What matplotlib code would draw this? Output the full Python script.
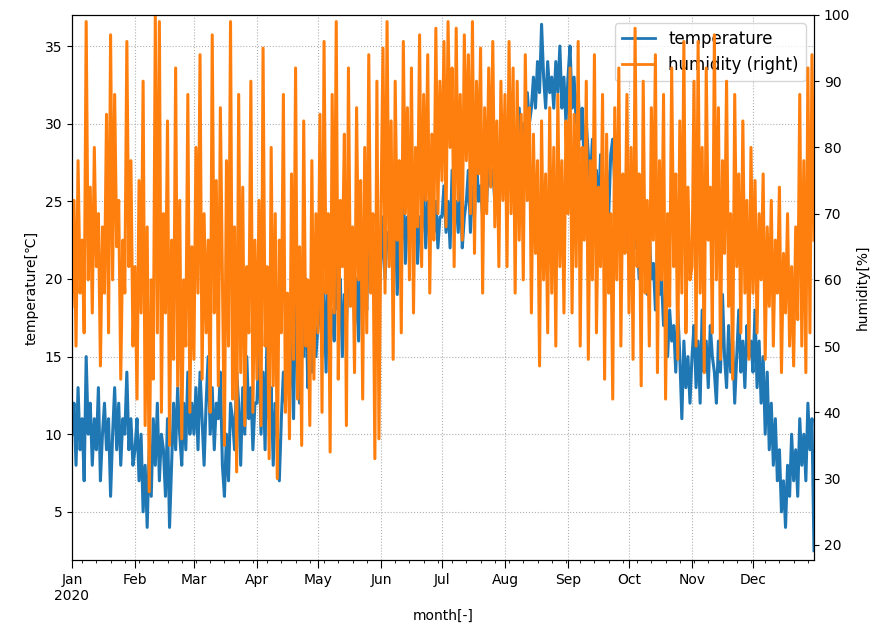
import numpy as np
import pandas as pd
import matplotlib
matplotlib.use("Agg")
import matplotlib.pyplot as plt
import matplotlib.dates as mdates

# daily values (2020, 366 days)
temperature = [
    # Jan
    10, 12, 8, 13, 9, 11, 7, 15, 10, 12, 8, 11, 9, 13, 7, 10, 12, 9, 11, 6,
    10, 13, 9, 12, 8, 11, 10, 14, 9, 11, 8,
    # Feb
    9, 11, 7, 10, 5, 8, 4, 9, 6, 11, 8, 12, 7, 10, 9, 6, 11, 4, 8, 12,
    9, 13, 10, 8, 12, 9, 14, 10, 12,
    # Mar
    10, 13, 9, 14, 11, 8, 12, 15, 10, 13, 9, 12, 11, 14, 8, 6, 10, 7, 12, 11,
    9, 14, 12, 8, 13, 10, 15, 11, 13, 9, 12,
    # Apr
    12, 16, 10, 14, 9, 17, 11, 13, 8, 12, 10, 7, 11, 14, 12, 18, 13, 16, 11, 19,
    14, 12, 17, 15, 20, 13, 16, 14, 18, 15,
    # May
    17, 20, 15, 19, 14, 21, 17, 18, 16, 22, 18, 20, 15, 19, 17, 21, 19, 23, 17, 20,
    16, 22, 19, 21, 18, 24, 20, 22, 18, 21, 19,
    # Jun
    21, 24, 20, 23, 22, 25, 21, 24, 19, 23, 22, 26, 21, 24, 23, 25, 22, 27, 21, 24,
    23, 26, 22, 25, 24, 27, 23, 25, 22, 24,
    # Jul
    24, 26, 23, 25, 22, 27, 24, 25, 23, 26, 22, 24, 25, 27, 23, 26, 24, 28, 25, 26,
    24, 27, 25, 28, 26, 27, 25, 28, 26, 29, 27,
    # Aug
    27, 29, 26, 30, 28, 27, 29, 31, 28, 30, 29, 32, 30, 31, 33, 31, 34, 32, 36.4, 33,
    31, 34, 32, 33, 31, 34, 32, 35, 31, 33, 30,
    # Sep
    33, 35, 31, 33, 30, 32, 29, 31, 27, 30, 28, 26, 29, 25, 27, 24, 28, 26, 25, 27,
    24, 28, 29, 26, 27, 24, 25, 23, 26, 22,
    # Oct
    24, 21, 25, 22, 23, 20, 24, 21, 22, 19, 23, 20, 21, 18, 22, 19, 20, 17, 19, 15,
    18, 16, 17, 14, 18, 15, 11, 16, 13, 15, 12,
    # Nov
    15, 17, 13, 16, 12, 18, 14, 16, 13, 17, 15, 14, 12, 16, 14, 19, 15, 13, 17, 14,
    16, 12, 15, 18, 14, 16, 13, 17, 15, 16,
    # Dec
    14, 18, 13, 16, 12, 15, 10, 14, 9, 12, 8, 11, 7, 9, 5, 7, 4, 8, 6, 10,
    7, 9, 6, 11, 8, 10, 7, 12, 9, 11, 2.5,
]

humidity = [
    # Jan
    56, 72, 50, 78, 58, 66, 52, 99, 60, 74, 55, 80, 62, 70, 47, 68, 58, 85, 52, 97,
    60, 88, 65, 72, 45, 66, 58, 96, 62, 78, 50,
    # Feb
    62, 42, 75, 55, 90, 38, 68, 28, 60, 45, 100, 52, 99, 40, 70, 55, 84, 35, 66, 48,
    92, 44, 72, 36, 60, 50, 88, 40, 65,
    # Mar
    48, 80, 58, 94, 45, 70, 52, 66, 40, 97, 55, 75, 44, 86, 60, 35, 78, 50, 99, 42,
    68, 31, 88, 46, 74, 38, 62, 52, 90, 40, 66,
    # Apr
    45, 72, 38, 95, 50, 62, 33, 80, 44, 70, 30, 66, 52, 88, 40, 58, 36, 76, 48, 92,
    42, 65, 35, 84, 50, 60, 38, 78, 45, 70,
    # May
    52, 85, 40, 96, 58, 70, 34, 88, 55, 99, 45, 72, 62, 82, 38, 92, 56, 68, 46, 86,
    60, 75, 42, 80, 52, 94, 58, 70, 33, 90, 36,
    # Jun
    70, 95, 58, 99, 62, 84, 48, 90, 66, 78, 52, 96, 70, 86, 60, 92, 55, 80, 68, 97,
    62, 88, 72, 94, 58, 82, 66, 98, 70, 90,
    # Jul
    75, 96, 68, 99, 80, 92, 62, 98, 72, 88, 66, 97, 78, 94, 70, 99, 64, 90, 76, 95,
    58, 86, 70, 92, 74, 96, 68, 84, 62, 90, 72,
    # Aug
    88, 62, 96, 70, 92, 58, 90, 66, 85, 60, 94, 72, 86, 55, 82, 64, 78, 47, 84, 60,
    76, 52, 86, 58, 80, 50, 88, 62, 78, 55, 84,
    # Sep
    70, 92, 55, 85, 62, 96, 50, 80, 66, 90, 48, 78, 60, 94, 52, 74, 62, 88, 45, 82,
    58, 70, 42, 86, 60, 92, 50, 76, 64, 88,
    # Oct
    55, 80, 48, 98, 62, 76, 44, 90, 58, 72, 50, 86, 66, 94, 46, 78, 60, 88, 42, 70,
    56, 92, 62, 76, 48, 84, 58, 96, 52, 74, 60,
    # Nov
    62, 90, 50, 96, 58, 80, 46, 92, 66, 74, 52, 97, 60, 86, 48, 78, 64, 90, 56, 70,
    45, 88, 62, 76, 52, 84, 58, 72, 48, 80,
    # Dec
    58, 75, 52, 70, 60, 76, 48, 68, 56, 72, 50, 66, 58, 74, 46, 64, 55, 70, 50, 62,
    47, 68, 54, 88, 50, 78, 46, 92, 52, 94, 66,
]

month_labels = ["Jan\n2020", "Feb", "Mar", "Apr", "May", "Jun",
                "Jul", "Aug", "Sep", "Oct", "Nov", "Dec"]

dates = pd.date_range("2020-01-01", periods=len(temperature), freq="D")

fig = plt.figure(figsize=(8.84, 6.4), dpi=100)
ax = fig.add_axes([0.0814, 0.125, 0.8394, 0.8516])
ax2 = ax.twinx()

l1, = ax.plot(dates, temperature, color="#1f77b4", lw=2.2, label="temperature")
l2, = ax2.plot(dates, humidity, color="#ff7f0e", lw=2.2, label="humidity (right)")

ax.set_xlim(dates[0], dates[-1])
ax.set_ylim(1.9, 37)
ax2.set_ylim(17.7, 100)
ax.set_yticks([5, 10, 15, 20, 25, 30, 35])
ax2.set_yticks([20, 30, 40, 50, 60, 70, 80, 90, 100])

month_starts = pd.date_range("2020-01-01", periods=12, freq="MS")
ax.set_xticks(month_starts)
ax.set_xticklabels(month_labels)
ax.xaxis.set_minor_locator(mdates.WeekdayLocator(byweekday=mdates.MO))
ax.tick_params(axis="x", which="major", length=6)

ax.grid(True, linestyle=":", color="#b0b0b0", linewidth=0.8)

ax.set_xlabel("month[-]")
ax.set_ylabel("temperature[℃]")
ax2.set_ylabel("humidity[%]")

leg = ax.legend([l1, l2], ["temperature", "humidity (right)"],
                loc="upper right", fontsize=12)
for h in leg.get_lines():
    h.set_linewidth(2)

fig.savefig("out.png", dpi=100)
